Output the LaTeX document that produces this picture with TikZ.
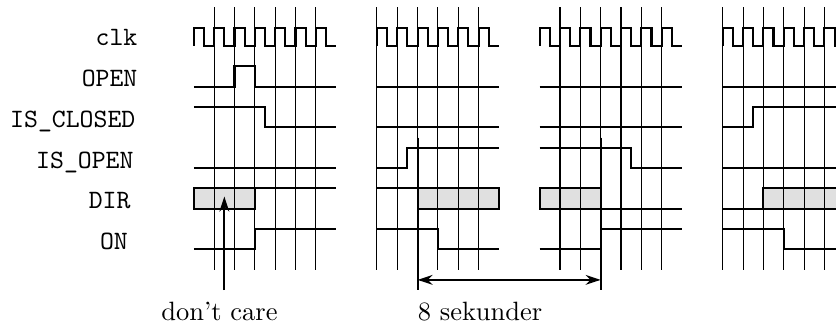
\documentclass[tikz,border=0pt]{standalone}
\usetikzlibrary{arrows.meta}

\begin{document}
\begin{tikzpicture}[x=0.27cm, y=0.27cm,
	signal/.style = {line width=0.8pt},
	tidslinje/.style = {line width=0.4pt},
	dontcare/.style = {draw, fill=dcgray, line width=0.8pt},
	pil/.style = {line width=0.8pt, -{Stealth[length=2mm, width=1.3mm]}},
	sekpil/.style = {line width=0.8pt, {Stealth[length=2mm, width=1.3mm]}-{Stealth[length=2mm, width=1.3mm]}},
	navn/.style = {anchor=base east, inner sep=0pt, font=\ttfamily}]
	\definecolor{dcgray}{HTML}{e0e0e0}
	\useasboundingbox (-9.53,-13.77) rectangle (31.57,2.26);
	\clip (-9.53,-13.77) rectangle (31.57,2.26);

	% signalnavne
	\node[navn] (clk)  at (-2.75,0)  {clk};
	\node[navn] (open) at (-2.75,-2) {OPEN};
	\node[navn] (isclosed) at (-2.85,-4) {IS\_CLOSED};
	\node[navn] (isopen)   at (-2.94,-6) {IS\_OPEN};
	\node[navn] (dir) at (-3.09,-8)  {DIR};
	\node[navn] (on)  at (-3.22,-10) {ON};

	% don't care felter
	\draw[dontcare] (0,-8)  rectangle (3,-7);
	\draw[dontcare] (11,-8) rectangle (15,-7);
	\draw[dontcare] (17,-8) rectangle (20,-7);
	\draw[dontcare] (28,-8) rectangle (33,-7);

	% tidslinjer
	\foreach \a/\b in {1/6, 9/14, 18/23, 26/31}
		\foreach \x in {\a,...,\b}
			\draw[tidslinje] (\x,1.9) -- (\x,-11);

	% clk
	\foreach \s/\n in {0/7, 9/6, 17/7, 26/7}
		\draw[signal] (\s,0) \foreach \k in {1,...,\n} { -- ++(0,0.9) -- ++(0.5,0) -- ++(0,-0.9) -- ++(0.5,0) };

	% lukket -> aabner
	\draw[signal] (0,-2) -- (2,-2) -- (2,-1) -- (3,-1) -- (3,-2) -- (7,-2);
	\draw[signal] (0,-3) -- (3.5,-3) -- (3.5,-4) -- (7,-4);
	\draw[signal] (0,-6) -- (7,-6);
	\draw[signal] (3,-7) -- (7,-7);
	\draw[signal] (0,-10) -- (3,-10) -- (3,-9) -- (7,-9);

	% aaben
	\draw[signal] (9,-2) -- (15,-2);
	\draw[signal] (9,-4) -- (15,-4);
	\draw[signal] (9,-6) -- (10.5,-6) -- (10.5,-5) -- (15,-5);
	\draw[signal] (9,-7) -- (11,-7);
	\draw[signal] (9,-9) -- (12,-9) -- (12,-10) -- (15,-10);

	% lukker
	\draw[signal] (17,-2) -- (24,-2);
	\draw[signal] (17,-4) -- (24,-4);
	\draw[signal] (17,-5) -- (21.5,-5) -- (21.5,-6) -- (24,-6);
	\draw[signal] (20,-8) -- (24,-8);
	\draw[signal] (17,-10) -- (20,-10) -- (20,-9) -- (24,-9);

	% lukket
	\draw[signal] (26,-2) -- (33,-2);
	\draw[signal] (26,-4) -- (27.5,-4) -- (27.5,-3) -- (33,-3);
	\draw[signal] (26,-6) -- (33,-6);
	\draw[signal] (26,-8) -- (28,-8);
	\draw[signal] (26,-9) -- (29,-9) -- (29,-10) -- (33,-10);

	% 8 sekunder
	\coordinate (start) at (11,-4.5);
	\coordinate (slut)  at (20,-4.5);
	\coordinate (startbund) at (11,-12);
	\coordinate (slutbund)  at (20,-12);
	\coordinate (pilstart) at (11,-11.5);
	\coordinate (pilslut)  at (20,-11.5);
	\draw[signal] (start) -- (startbund);
	\draw[signal] (slut) -- (slutbund);
	\draw[sekpil] (pilstart) -- (pilslut);
	\node[anchor=north, inner sep=0pt] (sek) at (14.07,-12.57) {8 sekunder};

	% don't care pil
	\coordinate (dcfod) at (1.5,-12);
	\coordinate (dctop) at (1.5,-7.4);
	\draw[pil] (dcfod) -- (dctop);
	\node[anchor=north, inner sep=0pt] (dc) at (1.26,-12.57) {don't care};
\end{tikzpicture}
\end{document}
